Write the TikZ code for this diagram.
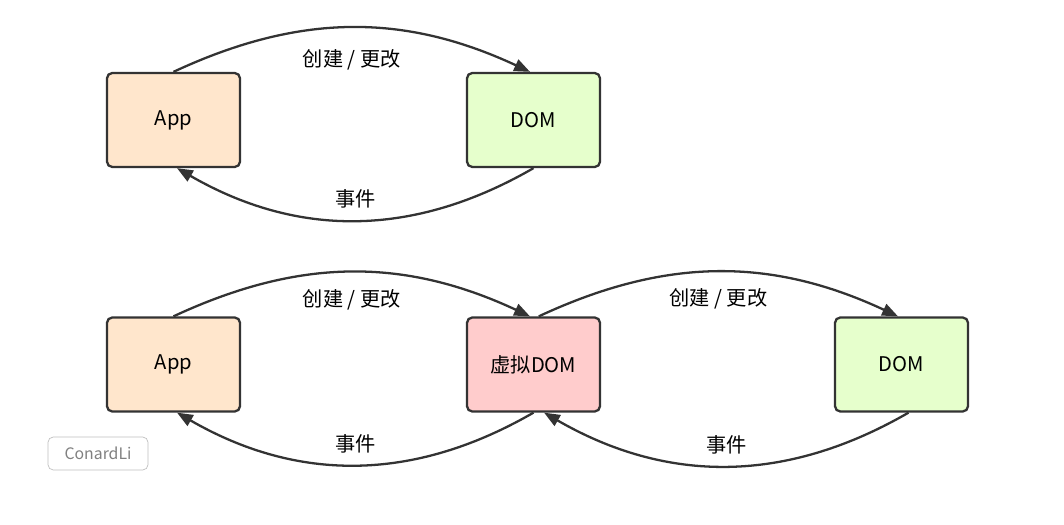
\documentclass[tikz,border=0pt]{standalone}
\usepackage{fontspec}
\setmainfont{Noto Sans CJK SC}
\usepackage{xcolor}
\usetikzlibrary{positioning,arrows.meta}
\definecolor{appfill}{HTML}{FFE6CC}
\definecolor{domfill}{HTML}{E6FFCC}
\definecolor{vdomfill}{HTML}{FFCCCC}
\definecolor{edgegray}{HTML}{333333}

\begin{document}
\begin{tikzpicture}[
    box/.style={draw=edgegray, rounded corners=3pt, line width=1.3pt,
                minimum width=2.66cm, minimum height=1.88cm,
                font=\fontsize{11.5}{13}\selectfont},
    flow/.style={draw=edgegray, line width=1.3pt, -{Triangle[length=9pt,width=7pt]}},
    lbl/.style={font=\fontsize{11.5}{13}\selectfont, inner sep=1pt},
]
\useasboundingbox (0,0) rectangle (21.28,10.48);
% top row
\node[box, fill=appfill] (app1) at (3.47,8.08) {App};
\node[box, fill=domfill] (dom1) at (10.67,8.08) {DOM};
\draw[flow] (app1.north) to[out=25,in=155] node[lbl, pos=0.5, below=11pt] {创建 / 更改} ([xshift=-2pt]dom1.north);
\draw[flow] (dom1.south) to[out=-150,in=-30] node[lbl, pos=0.5, above=5pt] {事件} ([xshift=2pt]app1.south);
% bottom row
\node[box, fill=appfill] (app2) at (3.47,3.19) {App};
\node[box, fill=vdomfill] (vdom) at (10.67,3.19) {虚拟DOM};
\node[box, fill=domfill] (dom2) at (18.03,3.19) {DOM};
\draw[flow] (app2.north) to[out=25,in=155] node[lbl, pos=0.5, below=8pt] {创建 / 更改} ([xshift=-2pt]vdom.north);
\draw[flow] ([xshift=3pt]vdom.north) to[out=25,in=155] node[lbl, pos=0.5, below=8pt] {创建 / 更改} ([xshift=-2pt]dom2.north);
\draw[flow] (vdom.south) to[out=-150,in=-30] node[lbl, pos=0.5, above=5pt] {事件} ([xshift=2pt]app2.south);
\draw[flow] ([xshift=4pt]dom2.south) to[out=-150,in=-30] node[lbl, pos=0.5, above=5pt] {事件} ([xshift=6pt]vdom.south);
% watermark
\node[draw=gray!50, rounded corners=3pt, text=gray, minimum width=2cm, minimum height=0.66cm,
      font=\fontsize{9}{11}\selectfont] (mark) at (1.96,1.41) {ConardLi};
\end{tikzpicture}
\end{document}
